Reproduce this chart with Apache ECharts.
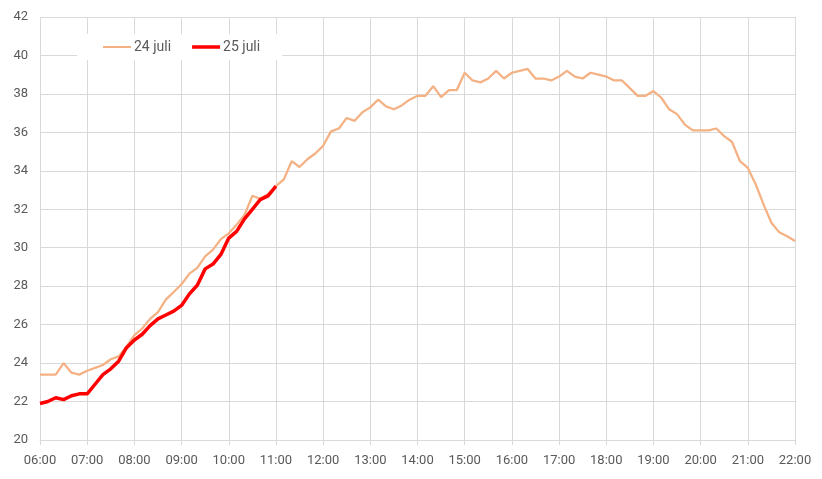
<!DOCTYPE html>
<html>
<head>
<meta charset="utf-8">
<script src="https://cdn.jsdelivr.net/npm/echarts@6/dist/echarts.min.js"></script>
<style>
html,body{margin:0;padding:0;background:#fff;}
#c{width:822px;height:479px;}
</style>
</head>
<body>
<div id="c"></div>
<script>
const times = [
"06:00","06:10","06:20","06:30","06:40","06:50",
"07:00","07:10","07:20","07:30","07:40","07:50",
"08:00","08:10","08:20","08:30","08:40","08:50",
"09:00","09:10","09:20","09:30","09:40","09:50",
"10:00","10:10","10:20","10:30","10:40","10:50",
"11:00","11:10","11:20","11:30","11:40","11:50",
"12:00","12:10","12:20","12:30","12:40","12:50",
"13:00","13:10","13:20","13:30","13:40","13:50",
"14:00","14:10","14:20","14:30","14:40","14:50",
"15:00","15:10","15:20","15:30","15:40","15:50",
"16:00","16:10","16:20","16:30","16:40","16:50",
"17:00","17:10","17:20","17:30","17:40","17:50",
"18:00","18:10","18:20","18:30","18:40","18:50",
"19:00","19:10","19:20","19:30","19:40","19:50",
"20:00","20:10","20:20","20:30","20:40","20:50",
"21:00","21:10","21:20","21:30","21:40","21:50",
"22:00"
];

const juli24 = [
23.4,23.4,23.4,24.0,23.5,23.4,
23.6,23.75,23.9,24.2,24.35,24.85,
25.45,25.8,26.3,26.65,27.3,27.7,
28.1,28.65,28.95,29.55,29.9,30.45,
30.75,31.2,31.7,32.7,32.55,32.8,
33.2,33.55,34.5,34.2,34.6,34.9,
35.3,36.05,36.2,36.75,36.6,37.05,
37.3,37.7,37.35,37.2,37.4,37.7,
37.9,37.9,38.4,37.83,38.2,38.2,
39.1,38.7,38.6,38.8,39.2,38.8,
39.1,39.2,39.3,38.8,38.8,38.7,
38.9,39.2,38.9,38.8,39.1,39.0,
38.9,38.7,38.7,38.3,37.9,37.9,
38.15,37.8,37.2,36.95,36.4,36.1,
36.1,36.1,36.2,35.8,35.5,34.5,
34.15,33.3,32.25,31.3,30.8,30.6,
30.35
];

const juli25 = [
21.9,22.0,22.2,22.1,22.3,22.4,
22.4,22.9,23.4,23.7,24.1,24.8,
25.2,25.5,25.95,26.3,26.5,26.7,
27.0,27.6,28.05,28.9,29.15,29.65,
30.5,30.85,31.5,32.0,32.5,32.7,
33.2
];

const seriesNames = ["24 juli","25 juli"];

const chart = echarts.init(document.getElementById('c'), null, {renderer:'canvas'});
const txt = '#595959';
const gridCol = '#d9d9d9';
// legend icons: thin bar inside a 28x14 box (degenerate subpaths fix the bounding box)
const thinIcon = 'path://M0,0L0,0ZM0,5.9L28,5.9L28,8.1L0,8.1ZM28,14L28,14Z';
const thickIcon = 'path://M0,0L0,0ZM0,5.2L28,5.2L28,8.8L0,8.8ZM28,14L28,14Z';
chart.setOption({
  animation:false,
  backgroundColor:'#fff',
  textStyle:{fontFamily:'Roboto'},
  grid:{left:40,right:27,top:17,bottom:39,containLabel:false},
  legend:{
    data:[{name:seriesNames[0],icon:thinIcon},{name:seriesNames[1],icon:thickIcon}],
    left:77, top:34,
    padding:[6,22,6,26],
    backgroundColor:'#fff',
    itemWidth:28, itemHeight:14, itemGap:21,
    textStyle:{color:txt,fontSize:14,fontFamily:'Roboto',padding:[0,0,0,-2]}
  },
  xAxis:{
    type:'category',
    data:times,
    boundaryGap:false,
    axisLine:{show:true,lineStyle:{color:gridCol}},
    axisTick:{show:true,interval:5,length:5,lineStyle:{color:gridCol}},
    axisLabel:{interval:5,color:txt,fontSize:13,margin:14,fontFamily:'Roboto'},
    splitLine:{show:true,interval:5,lineStyle:{color:gridCol}}
  },
  yAxis:{
    type:'value',
    min:20,max:42,interval:2,
    axisLine:{show:false},
    axisTick:{show:false},
    axisLabel:{color:txt,fontSize:13,margin:12,fontFamily:'Roboto'},
    splitLine:{show:true,lineStyle:{color:gridCol}}
  },
  series:[
    {name:seriesNames[0],type:'line',data:juli24,symbol:'none',
     lineStyle:{color:'#F4B183',width:2.25},itemStyle:{color:'#F4B183'}},
    {name:seriesNames[1],type:'line',data:juli25,symbol:'none',
     lineStyle:{color:'#FF0000',width:3.5},itemStyle:{color:'#FF0000'}}
  ]
});
</script>
</body>
</html>
